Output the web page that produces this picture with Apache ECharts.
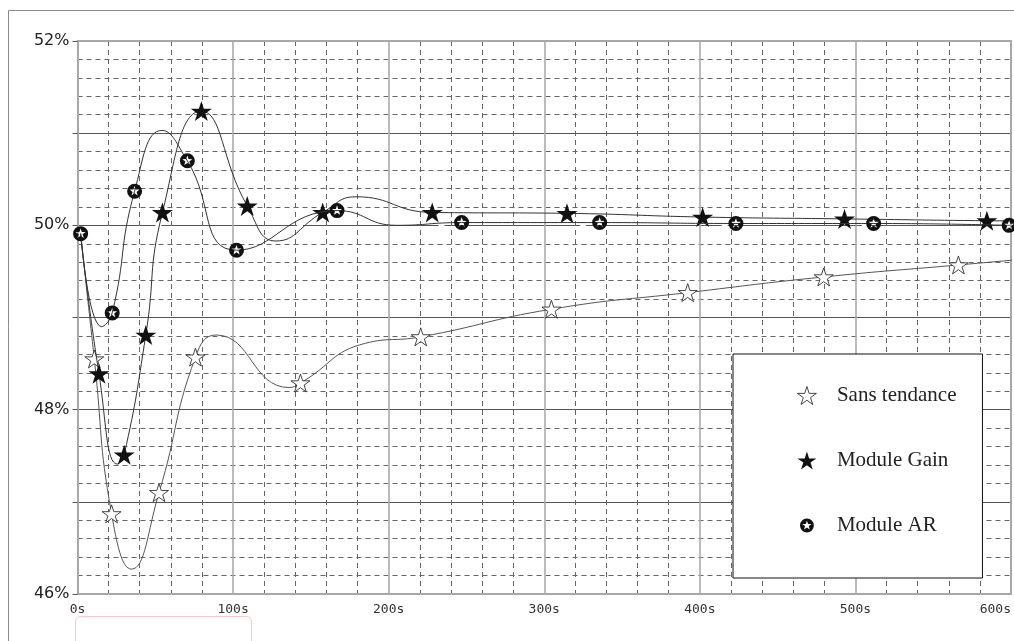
<!DOCTYPE html>
<html>
<head>
<meta charset="utf-8">
<script src="https://cdn.jsdelivr.net/npm/echarts@6/dist/echarts.min.js"></script>
<style>
html,body{margin:0;padding:0;background:#fff;}
#chart{width:1014px;height:641px;}
</style>
</head>
<body>
<div id="chart"></div>
<script>
// ---- data ----
const seriesNames = ['Sans tendance', 'Module Gain', 'Module AR'];
// marked points
const sansT = [10.8, 21.9, 52.4, 75.8, 143.3, 220.6, 304.6, 392.2, 479.6, 566.2, 653];
const sansV = [48.55, 46.87, 47.10, 48.57, 48.29, 48.79, 49.09, 49.27, 49.44, 49.57, 49.70];
const gainT = [13.8, 30, 43.9, 54.6, 79.6, 109.1, 157.6, 228, 314.6, 401.8, 493, 584.5, 675];
const gainV = [48.39, 47.51, 48.81, 50.14, 51.24, 50.21, 50.14, 50.14, 50.13, 50.09, 50.07, 50.05, 50.04];
const arT = [2, 22.3, 36.7, 70.6, 102.2, 166.8, 246.9, 335.6, 423.2, 511.7, 598.8];
const arV = [49.91, 49.05, 50.37, 50.70, 49.73, 50.16, 50.03, 50.03, 50.02, 50.02, 50.00];
// unmarked points of the curves (shared start + turning points)
const sansCurveT = [2, 34.7, 89.2, 136, 185];
const sansCurveV = [49.91, 46.27, 48.81, 48.24, 48.72];
const gainCurveT = [2, 25.5, 127.6, 179];
const gainCurveV = [49.91, 47.41, 49.83, 50.31];
const arCurveT = [15.5, 54.4, 205];
const arCurveV = [48.90, 51.03, 50.00];
// small circles on the 50% line
const refT = [52, 143, 234, 325, 416, 506, 597];
const refV = [50, 50, 50, 50, 50, 50, 50];
const xTicks = [0, 100, 200, 300, 400, 500, 600];
const yTicks = [46, 48, 50, 52];

function build(mt, mv, ct, cv) {
  const a = mt.map((x, i) => ({ value: [x, mv[i]] }));
  const b = (ct || []).map((x, i) => ({ value: [x, cv[i]], symbol: 'none' }));
  return a.concat(b).sort((p, q) => p.value[0] - q.value[0]);
}

// ---- symbol shapes ----
function starPath(R, r, ccw) {
  let s = '';
  for (let i = 0; i < 10; i++) {
    const a = (-90 + (ccw ? -1 : 1) * i * 36) * Math.PI / 180;
    const rad = i % 2 === 0 ? R : r;
    const x = (rad * Math.cos(a)).toFixed(3), y = (rad * Math.sin(a)).toFixed(3);
    s += (i === 0 ? 'M' : 'L') + x + ' ' + y;
  }
  return s + 'Z';
}
const STAR = 'path://' + starPath(10, 3.82, false);
const AR_BODY = 'M0 -10A10 10 0 1 1 0 10A10 10 0 1 1 0 -10Z' + starPath(7, 2.8, true);
const AR_SYM = 'path://' + AR_BODY;
const AR_LEG = 'path://M-13 -13L-13 -13M13 13L13 13' + AR_BODY;

const chart = echarts.init(document.getElementById('chart'));
const option = {
  animation: false,
  backgroundColor: '#fff',
  graphic: [
    { type: 'rect', shape: { x: 8.5, y: 10.5, width: 1200, height: 800 }, style: { fill: 'none', stroke: '#8a8a8a', lineWidth: 1 }, silent: true, z: -10 },
    { type: 'rect', shape: { x: 75.5, y: 616.5, width: 176, height: 40, r: 5 }, style: { fill: 'none', stroke: '#f6c8cc', lineWidth: 1 }, silent: true, z: -10 }
  ],
  grid: { left: 77.5, right: 0.5, top: 41, bottom: 47, containLabel: false },
  legend: {
    orient: 'vertical',
    left: 733, top: 354,
    padding: [31, 26, 42, 64],
    itemWidth: 50, itemHeight: 18, itemGap: 44,
    backgroundColor: '#fff', borderColor: '#111', borderWidth: 1,
    textStyle: { fontFamily: 'Liberation Serif', fontSize: 21, color: '#222' },
    data: [
      { name: seriesNames[0], icon: STAR, itemStyle: { borderWidth: 0.9 } },
      { name: seriesNames[1], icon: STAR },
      { name: seriesNames[2], icon: AR_LEG }
    ],
    selectedMode: false
  },
  xAxis: [{
    type: 'value', min: 0, max: 600, interval: 100,
    axisLine: { show: true, lineStyle: { color: '#a8a8a8', width: 2 } },
    axisTick: { show: false },
    axisLabel: {
      margin: 9, fontFamily: 'DejaVu Sans Mono', fontSize: 13, color: '#333',
      alignMaxLabel: 'right',
      formatter: v => xTicks.indexOf(v) >= 0 ? v + 's' : ''
    },
    splitLine: { show: true, lineStyle: { color: '#aaaaaa', width: 1.6 } },
    minorTick: { show: false, splitNumber: 5 },
    minorSplitLine: { show: true, lineStyle: { color: '#666', width: 1, type: [5, 4] } }
  }, {
    type: 'value', min: 0, max: 600, position: 'top',
    axisLine: { show: true, onZero: false, lineStyle: { color: '#a8a8a8', width: 2 } },
    axisTick: { show: false }, axisLabel: { show: false }, splitLine: { show: false }
  }],
  yAxis: [{
    type: 'value', min: 46, max: 52, interval: 1,
    axisLine: { show: true, lineStyle: { color: '#a8a8a8', width: 2 } },
    axisTick: { show: true, length: 5, lineStyle: { color: '#555', width: 1 } },
    axisLabel: {
      margin: 8, fontFamily: 'DejaVu Sans', fontSize: 16, color: '#222',
      formatter: v => yTicks.indexOf(v) >= 0 ? v + '%' : ''
    },
    splitLine: { show: true, lineStyle: { color: '#555', width: 1 } },
    minorTick: { show: false, splitNumber: 5 },
    minorSplitLine: { show: true, lineStyle: { color: '#666', width: 1, type: [5, 4] } }
  }, {
    type: 'value', min: 46, max: 52, position: 'right',
    axisLine: { show: true, onZero: false, lineStyle: { color: '#a8a8a8', width: 2 } },
    axisTick: { show: false }, axisLabel: { show: false }, splitLine: { show: false }
  }],
  series: [
    {
      name: 'ref', type: 'line', data: build(refT, refV),
      symbol: 'emptyCircle', symbolSize: 4,
      itemStyle: { color: '#fff', borderColor: '#777', borderWidth: 1 },
      lineStyle: { width: 0, opacity: 0 }, z: 2
    },
    {
      name: seriesNames[0], type: 'line', data: build(sansT, sansV, sansCurveT, sansCurveV), smooth: 0.5,
      symbol: STAR, symbolSize: [19, 18],
      itemStyle: { color: '#fff', borderColor: '#333', borderWidth: 0.9 },
      lineStyle: { color: '#555', width: 1 }, z: 3
    },
    {
      name: seriesNames[1], type: 'line', data: build(gainT, gainV, gainCurveT, gainCurveV), smooth: 0.5,
      symbol: STAR, symbolSize: [21, 20],
      itemStyle: { color: '#111', borderColor: '#111', borderWidth: 0 },
      lineStyle: { color: '#333', width: 1 }, z: 4
    },
    {
      name: seriesNames[2], type: 'line', data: build(arT, arV, arCurveT, arCurveV), smooth: 0.5,
      symbol: AR_SYM, symbolSize: 15,
      itemStyle: { color: '#111', borderWidth: 0 },
      lineStyle: { color: '#333', width: 1 }, z: 5
    }
  ]
};
chart.setOption(option);
</script>
</body>
</html>
